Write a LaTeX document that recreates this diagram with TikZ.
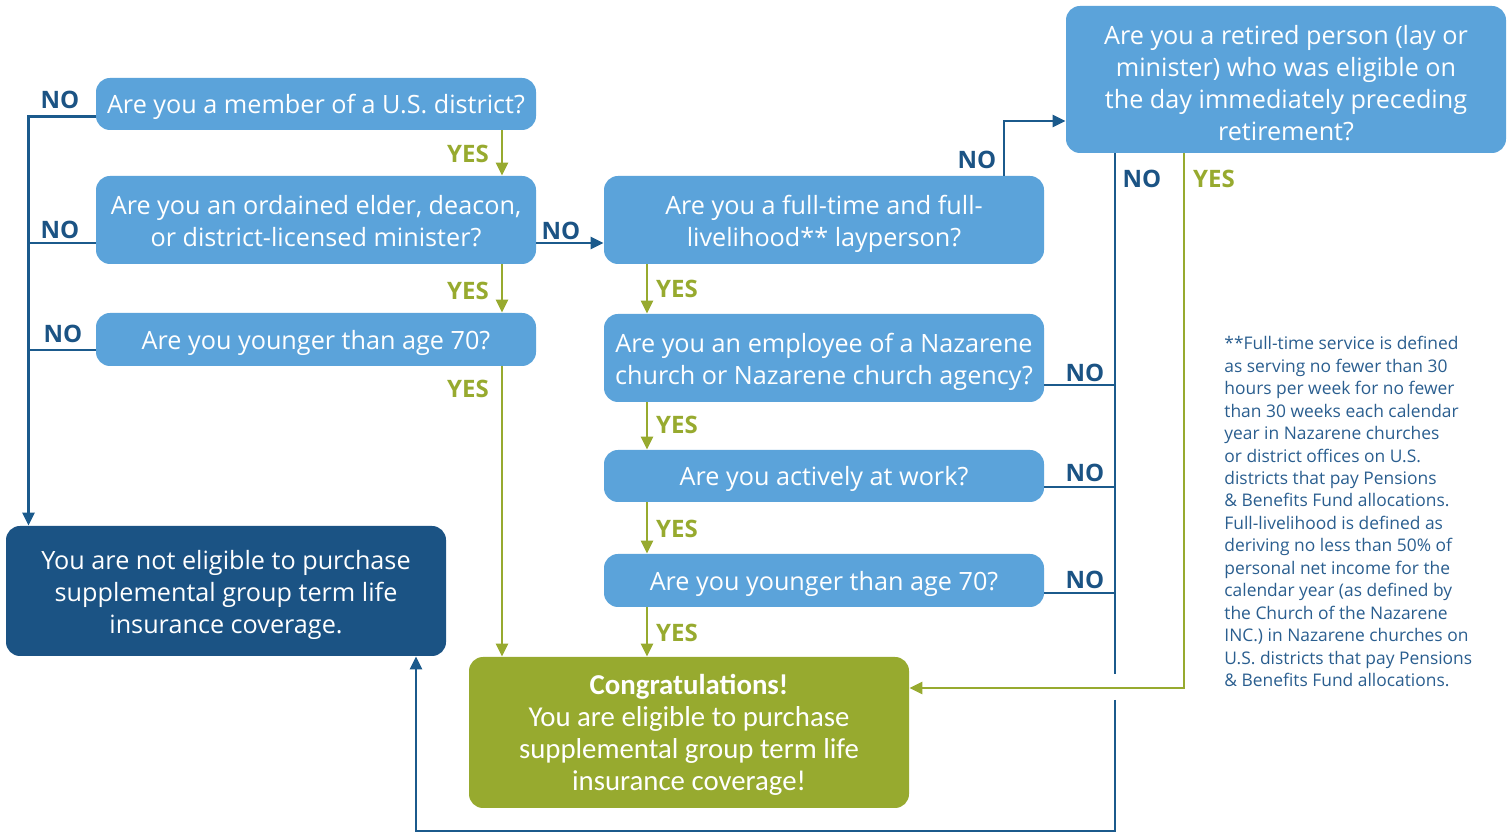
\documentclass[tikz,border=0pt]{standalone}
\usepackage{fontspec}
\setmainfont{Open Sans}
\newfontfamily\condf{Carlito}
\usetikzlibrary{arrows.meta,calc}
\definecolor{qblue}{HTML}{5BA3DA}
\definecolor{dblue}{HTML}{1B5384}
\definecolor{grn}{HTML}{97AA2F}
\definecolor{lblue}{HTML}{1B5A8C}
\definecolor{ftxt}{HTML}{2A5E8F}
\newcommand{\topstrut}[1]{\rule{0pt}{#1}}
\begin{document}
\begin{tikzpicture}[x=0.5pt,y=-0.5pt,
  box/.style={rounded corners=7pt, text=white, minimum width=220pt, align=center, inner sep=0pt, font=\fontsize{12.6}{16}\selectfont},
  q/.style={box, fill=qblue},
  nol/.style={text=dblue, font=\bfseries\fontsize{12}{14}\selectfont, inner sep=0pt},
  yesl/.style={text=grn, font=\bfseries\fontsize{12}{14}\selectfont, inner sep=0pt},
  tip/.style={-{Triangle[length=6.5pt,width=6pt]}},
  noline/.style={draw=lblue, line width=1.3pt},
  yesline/.style={draw=grn, line width=1.3pt}]
\useasboundingbox (0,0) rectangle (1511,833);

% question boxes
\node[q, minimum height=26pt] (A) at (316,104) {\topstrut{13pt}Are you a member of a U.S. district?};
\node[q, minimum height=44pt] (B) at (316,220) {\topstrut{11pt}Are you an ordained elder, deacon,\\ or district-licensed minister?};
\node[q, minimum height=26.5pt] (C) at (316,339.5) {\topstrut{13pt}Are you younger than age 70?};
\node[box, fill=dblue, minimum height=65pt] (D) at (226,591) {\topstrut{13.5pt}You are not eligible to purchase\\ supplemental group term life\\ insurance coverage.};
\node[box, fill=grn, minimum height=75.5pt, font=\condf\fontsize{14.4}{16}\selectfont] (E) at (689,732.5) {\topstrut{12.3pt}\textbf{Congratulations!}\\ You are eligible to purchase\\ supplemental group term life\\ insurance coverage!};
\node[q, minimum height=44pt] (F) at (824,220) {\topstrut{13.5pt}Are you a full-time and full-\\ livelihood** layperson?};
\node[q, minimum height=44pt] (G) at (824,358) {\topstrut{13.5pt}Are you an employee of a Nazarene\\ church or Nazarene church agency?};
\node[q, minimum height=26pt] (H) at (824,476) {\topstrut{13pt}Are you actively at work?};
\node[q, minimum height=26.5pt] (I) at (824,580.5) {\topstrut{13pt}Are you younger than age 70?};
\node[q, minimum height=73.5pt] (J) at (1286,79.5) {\topstrut{13.5pt}Are you a retired person (lay or\\ minister) who was eligible on\\ the day immediately preceding\\ retirement?};

% helper coordinates
\coordinate (lx) at (28.5,0);
\coordinate (yx) at (502,0);
\coordinate (fx) at (647,0);
\coordinate (nx) at (1004,0);
\coordinate (busx) at (1115,0);
\coordinate (gx) at (1184,0);
\coordinate (dx) at (416,0);
\coordinate (ya) at (0,116.5);
\coordinate (yb) at (0,243);
\coordinate (yc) at (0,350);
\coordinate (yj) at (0,121);
\coordinate (yg) at (0,385);
\coordinate (yh) at (0,487);
\coordinate (yi) at (0,593);
\coordinate (ye) at (0,688);
\coordinate (gap1) at (1115,674);
\coordinate (gap2) at (1115,700);
\coordinate (bot) at (1115,831);

% left NO bus
\draw[noline, tip] (A.west |- ya) -| (D.north -| lx);
\draw[noline] (B.west |- yb) -- (lx |- yb);
\draw[noline] (C.west |- yc) -- (lx |- yc);
% B -> F
\draw[noline, tip] (B.east |- yb) -- (F.west |- yb);
% F -> J
\draw[noline, tip] (F.north -| nx) |- (J.west |- yj);
% right NO bus
\draw[noline] (J.south -| busx) -- (gap1);
\draw[noline] (G.east |- yg) -- (busx |- yg);
\draw[noline] (H.east |- yh) -- (busx |- yh);
\draw[noline] (I.east |- yi) -- (busx |- yi);
\draw[noline, tip] (gap2) -- (bot) -| (D.south -| dx);

% YES lines
\draw[yesline, tip] (A.south -| yx) -- (B.north -| yx);
\draw[yesline, tip] (B.south -| yx) -- (C.north -| yx);
\draw[yesline, tip] (C.south -| yx) -- (E.north -| yx);
\draw[yesline, tip] (F.south -| fx) -- (G.north -| fx);
\draw[yesline, tip] (G.south -| fx) -- (H.north -| fx);
\draw[yesline, tip] (H.south -| fx) -- (I.north -| fx);
\draw[yesline, tip] (I.south -| fx) -- (E.north -| fx);
\draw[yesline, tip] (J.south -| gx) |- (E.east |- ye);

% labels
\node[nol] at (60,100) {NO};
\node[nol] at (60,230) {NO};
\node[nol] at (63,333.5) {NO};
\node[nol] at (561,231) {NO};
\node[nol] at (977,160) {NO};
\node[nol] at (1142,179) {NO};
\node[nol] at (1085,372.5) {NO};
\node[nol] at (1085,472.5) {NO};
\node[nol] at (1085,580) {NO};
\node[yesl] at (468,154) {YES};
\node[yesl] at (468,291) {YES};
\node[yesl] at (468,389) {YES};
\node[yesl] at (677,289) {YES};
\node[yesl] at (677,425) {YES};
\node[yesl] at (677,529) {YES};
\node[yesl] at (677,633) {YES};
\node[yesl] at (1214,179) {YES};

% footnote
\node[anchor=north west, align=left, inner sep=0pt, text=ftxt, font=\fontsize{8.7}{11.23}\selectfont] (note) at (1224,336) {**Full-time service is defined\\ as serving no fewer than 30\\ hours per week for no fewer\\ than 30 weeks each calendar\\ year in Nazarene churches\\ or district offices on U.S.\\ districts that pay Pensions\\ \& Benefits Fund allocations.\\ Full-livelihood is defined as\\ deriving no less than 50\% of\\ personal net income for the\\ calendar year (as defined by\\ the Church of the Nazarene\\ INC.) in Nazarene churches on\\ U.S. districts that pay Pensions\\ \& Benefits Fund allocations.};
\end{tikzpicture}
\end{document}
